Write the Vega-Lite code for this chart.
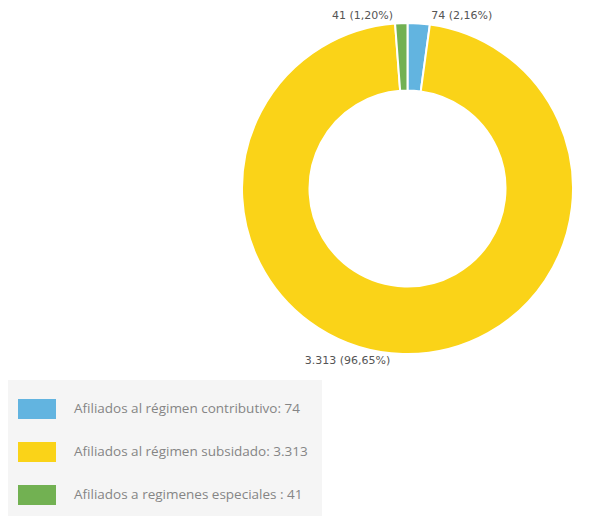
{
  "$schema": "https://vega.github.io/schema/vega-lite/v6.json",
  "autosize": "none",
  "width": 331,
  "height": 333,
  "padding": {"left": 242, "top": 22, "right": 40, "bottom": 166},
  "background": "white",
  "config": {"view": {"stroke": null}},
  "data": {
    "values": [
      {"categoria": "Afiliados al régimen contributivo:  74", "valor": 74, "etiqueta": "74 (2,16%)", "orden": 1},
      {"categoria": "Afiliados al régimen subsidado:  3.313", "valor": 3313, "etiqueta": "3.313 (96,65%)", "orden": 2},
      {"categoria": "Afiliados a regimenes especiales :  41", "valor": 41, "etiqueta": "41 (1,20%)", "orden": 3}
    ]
  },
  "encoding": {
    "theta": {"field": "valor", "type": "quantitative", "stack": true},
    "order": {"field": "orden", "type": "quantitative"}
  },
  "layer": [
    {
      "mark": {"type": "arc", "innerRadius": 98, "stroke": "white", "strokeWidth": 2},
      "encoding": {
        "color": {
          "field": "categoria",
          "type": "nominal",
          "sort": ["Afiliados al régimen contributivo:  74", "Afiliados al régimen subsidado:  3.313", "Afiliados a regimenes especiales :  41"],
          "scale": {
            "domain": ["Afiliados al régimen contributivo:  74", "Afiliados al régimen subsidado:  3.313", "Afiliados a regimenes especiales :  41"],
            "range": ["#62b4e0", "#fad318", "#72b152"]
          },
          "legend": {
            "title": null,
            "orient": "none",
            "legendX": -234,
            "legendY": 358,
            "fillColor": "#f5f5f5",
            "padding": 10,
            "symbolType": "M-1,-0.53H1V0.53H-1Z",
            "symbolSize": 1444,
            "symbolStrokeWidth": 0,
            "symbolOpacity": 1,
            "labelOffset": 18,
            "labelFont": "Open Sans",
            "labelFontSize": 13.5,
            "labelColor": "#858585",
            "labelLimit": 400,
            "rowPadding": 13
          }
        }
      }
    },
    {
      "mark": {
        "type": "text",
        "radius": 173,
        "font": "DejaVu Sans",
        "fontSize": 11,
        "color": "#555555",
        "align": {"expr": "datum.orden == 1 ? 'left' : 'right'"},
        "dx": {"expr": "datum.orden == 1 ? 12 : datum.orden == 2 ? -12 : -8"},
        "baseline": "middle"
      },
      "encoding": {
        "text": {"field": "etiqueta", "type": "nominal"}
      }
    }
  ]
}
